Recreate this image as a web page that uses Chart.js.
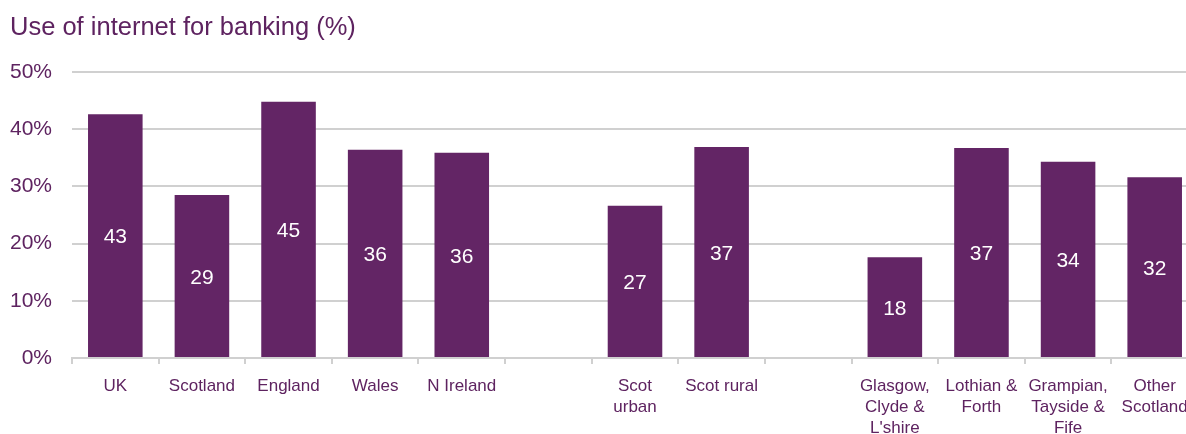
<!DOCTYPE html>
<html>
<head>
<meta charset="utf-8">
<script src="https://cdn.jsdelivr.net/npm/chart.js@4"></script>
<style>
    html, body { margin: 0; padding: 0; background: #fff; overflow: hidden; }
    #wrap { width: 1200px; height: 434px; }
</style>
</head>
<body>
<div id="wrap"><canvas id="bankingChart" width="1200" height="434"></canvas></div>
<script>
// ===================================
// Use of internet for banking (%)
// ===================================

// Categories (empty strings are the gaps between groups)
const categories = [
    'UK', 'Scotland', 'England', 'Wales', 'N Ireland',
    '',
    ['Scot', 'urban'], 'Scot rural',
    '',
    ['Glasgow,', 'Clyde &', "L'shire"], ['Lothian &', 'Forth'],
    ['Grampian,', 'Tayside &', 'Fife'], ['Other', 'Scotland']
];

// Bar heights
const shareValues = [42.6, 28.5, 44.8, 36.4, 35.9, null, 26.6, 36.9, null, 17.6, 36.7, 34.3, 31.6];

// Labels printed inside the bars
const barLabels = ['43', '29', '45', '36', '36', '', '27', '37', '', '18', '37', '34', '32'];

// Y axis ticks
const yTicks = [0, 10, 20, 30, 40, 50];

const PURPLE = '#632565';
const TEXT = '#5e2360';
const GRID = '#d0d0d0';
const FONT = '"Liberation Sans", Arial, sans-serif';

// Draw value labels in the middle of each bar
const barLabelPlugin = {
    id: 'barLabels',
    afterDatasetsDraw: function(chart) {
        const ctx = chart.ctx;
        const meta = chart.getDatasetMeta(0);
        ctx.save();
        ctx.fillStyle = '#ffffff';
        ctx.font = '21px ' + FONT;
        ctx.textAlign = 'center';
        ctx.textBaseline = 'middle';
        meta.data.forEach((bar, i) => {
            if (!barLabels[i] || shareValues[i] == null) return;
            const mid = (bar.y + bar.base) / 2;
            ctx.fillText(barLabels[i], bar.x, mid + 2);
        });
        ctx.restore();
    }
};

new Chart(document.getElementById('bankingChart'), {
    type: 'bar',
    data: {
        labels: categories,
        datasets: [{
            data: shareValues,
            backgroundColor: PURPLE,
            borderWidth: 0,
            barPercentage: 0.63,
            categoryPercentage: 1.0
        }]
    },
    options: {
        responsive: false,
        animation: false,
        devicePixelRatio: 1,
        layout: {
            padding: { left: 10, right: 2, top: 0, bottom: 0 }
        },
        plugins: {
            legend: { display: false },
            tooltip: { enabled: false },
            title: {
                display: true,
                text: 'Use of internet for banking (%)',
                align: 'start',
                color: TEXT,
                font: { family: FONT, size: 25.5, weight: 'normal', lineHeight: 1.2 },
                padding: { top: 13, bottom: 28.4 }
            }
        },
        scales: {
            y: {
                min: 0,
                max: 50,
                afterBuildTicks: function(scale) {
                    scale.ticks = yTicks.map(v => ({ value: v }));
                },
                afterFit: function(scale) {
                    scale.width = 62;
                },
                ticks: {
                    color: TEXT,
                    padding: 20,
                    font: { family: FONT, size: 21 },
                    callback: function(v) { return v + '%'; }
                },
                grid: {
                    color: GRID,
                    lineWidth: 2,
                    drawTicks: false
                },
                border: { display: false }
            },
            x: {
                afterFit: function(scale) {
                    scale.height = 76;
                },
                ticks: {
                    color: TEXT,
                    padding: 12,
                    maxRotation: 0,
                    autoSkip: false,
                    font: { family: FONT, size: 17, lineHeight: 1.235 }
                },
                grid: {
                    offset: true,
                    drawOnChartArea: false,
                    drawTicks: true,
                    tickLength: 6,
                    color: GRID,
                    lineWidth: 2
                },
                border: { display: true, color: GRID, width: 2 }
            }
        }
    },
    plugins: [barLabelPlugin]
});
</script>
</body>
</html>
